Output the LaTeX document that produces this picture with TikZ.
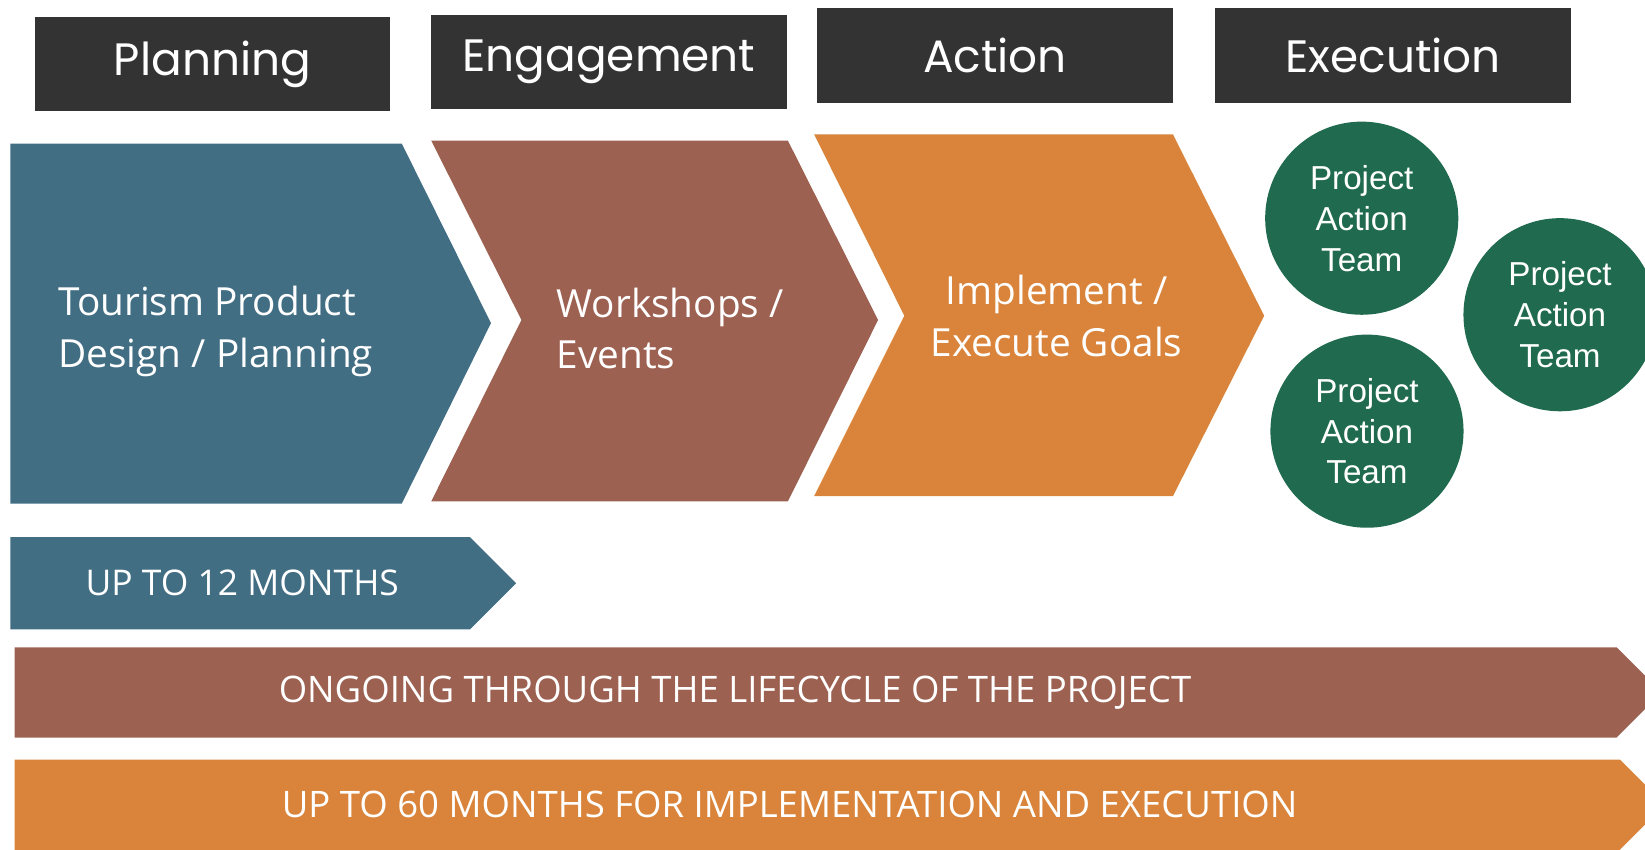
\documentclass[tikz,border=0pt]{standalone}
\usepackage{fontspec}
\setmainfont{Open Sans}
\newfontfamily\headfont{Poppins}
\newfontfamily\teamfont{Liberation Sans}

\definecolor{headgray}{HTML}{333333}
\definecolor{planblue}{HTML}{426E84}
\definecolor{engbrown}{HTML}{9C6151}
\definecolor{actorange}{HTML}{D9843A}
\definecolor{teamgreen}{HTML}{206A4F}

\begin{document}
\begin{tikzpicture}[x=0.01cm, y=-0.01cm,
    phase/.style={fill=headgray, text=white, inner sep=0pt,
        minimum width=3.39cm, minimum height=0.9cm,
        font=\headfont\fontsize{12.3}{14}\selectfont},
    team/.style={circle, fill=teamgreen, text=white, inner sep=0pt,
        minimum size=1.84cm, align=center,
        font=\teamfont\fontsize{9}{11.1}\selectfont},
    label/.style={text=white, inner sep=0pt,
        font=\fontsize{10.5}{14}\selectfont},
    span/.style={text=white, inner sep=0pt, anchor=west,
        font=\fontsize{9.9}{11}\selectfont}]
    \useasboundingbox (0,0) rectangle (1568,810);
    \clip (0,0) rectangle (1568,810);

    % chevrons
    \fill[planblue]  (10,137) -- (383,137) -- (468,308) -- (383,480) -- (10,480) -- cycle;
    \fill[engbrown]  (411,134) -- (751,134) -- (837,305) -- (751,478) -- (411,478) -- (497,305) -- cycle;
    \fill[actorange] (776,128) -- (1118,128) -- (1205,301) -- (1118,473) -- (776,473) -- (862,301) -- cycle;

    % time bars
    \fill[planblue]  (10,512) -- (448,512) -- (492,556) -- (448,600) -- (10,600) -- cycle;
    \fill[engbrown]  (14,617) -- (1541,617) -- (1584,660) -- (1541,703) -- (14,703) -- cycle;
    \fill[actorange] (14,724) -- (1544,724) -- (1587,767) -- (1544,810) -- (14,810) -- cycle;

    \node[phase](plan)  at (202.5,61) {Planning};
    \node[phase](eng)   at (580.5,59) {Engagement};
    \node[phase](act)   at (948.5,53) {Action};
    \node[phase](exe)   at (1328,53)  {Execution};

    \node[label, align=left, anchor=west](plantxt) at (55,316)   {Tourism Product\\Design / Planning};
    \node[label, align=left, anchor=west](engtxt)  at (530,313)  {Workshops /\\Events};
    \node[label, align=center](acttxt)             at (1007,301) {Implement /\\Execute Goals};

    \node[team](t1) at (1298,208) {Project\\Action\\Team};
    \node[team](t2) at (1487,300) {Project\\Action\\Team};
    \node[team](t3) at (1303,411) {Project\\Action\\Team};

    \node[span, font=\fontsize{9.6}{11}\selectfont](m12) at (81,556) {UP TO 12 MONTHS};
    \node[span](life) at (265,660) {ONGOING THROUGH THE LIFECYCLE OF THE PROJECT};
    \node[span](m60)  at (268,767) {UP TO 60 MONTHS FOR IMPLEMENTATION AND EXECUTION};
\end{tikzpicture}
\end{document}
